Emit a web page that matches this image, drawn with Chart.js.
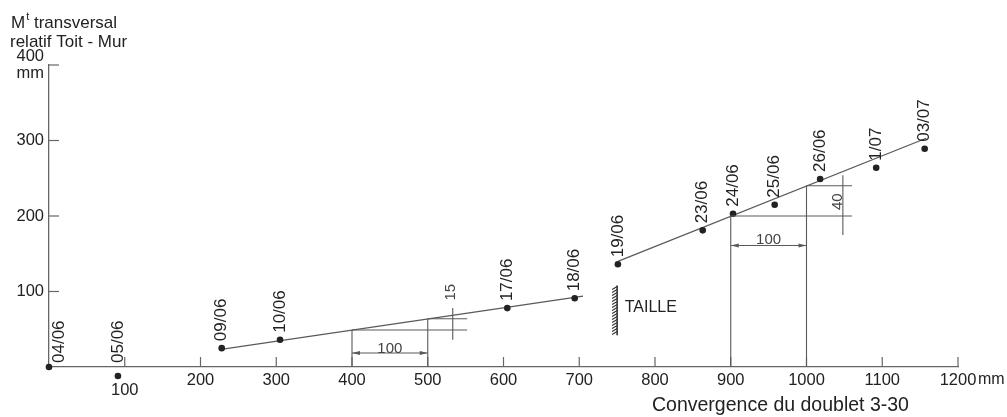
<!DOCTYPE html>
<html><head><meta charset="utf-8">
<script src="https://cdn.jsdelivr.net/npm/chart.js@4.4.1/dist/chart.umd.min.js"></script>
<style>html,body{margin:0;padding:0;background:#fff}canvas{display:block}</style>
</head><body>
<canvas id="c" width="1007" height="417"></canvas>
<script>
// ---- data ----
const dateLabels   = ['04/06','05/06','09/06','10/06','17/06','18/06','19/06','23/06','24/06','25/06','26/06','1/07','03/07'];
const convergence  = [0, 91, 228, 305, 605, 694, 751, 863, 903, 958, 1018, 1092, 1156];   // mm
const transversal  = [0, -12, 25, 36, 78, 91, 136, 181, 203, 215, 249, 264, 289];          // mm
const xTicks = [0,100,200,300,400,500,600,700,800,900,1000,1100,1200];
const yTicks = [0,100,200,300,400];
// fitted straight lines (end points)
const fit1X = [225, 705];  const fit1Y = [23, 94];
const fit2X = [751, 1158]; const fit2Y = [140, 303];
// slope construction triangles: [x1,y1,x2,y2] in data units
const tri1Lines = [[400,0,400,49],[500,0,500,64],[400,49,552,49],[500,64,552,64],[533,36,533,78]];
const tri1Arrow = [400,18.5,500,18.5];
const tri1Labels = [{t:'100',x:450,y:24,rot:false},{t:'15',x:530,y:99,rot:true}];
const tri2Lines = [[900,0,900,200],[1000,0,1000,240],[900,200,1060,200],[1000,240,1060,240],[1048,175,1048,254]];
const tri2Arrow = [900,161,1000,161];
const tri2Labels = [{t:'100',x:950,y:168,rot:false},{t:'40',x:1042,y:219,rot:true}];
// face (taille) marker
const tailleX = 750; const tailleY = [42, 108];
const tailleText = {t:'TAILLE', x:760, y:79};
const yTitle = ['M','t',' transversal','relatif Toit - Mur'];
const xTitle = 'Convergence du doublet 3-30';

const FONT = '"Liberation Sans", Arial, sans-serif';
const INK = '#222';
const LINE = '#5a5a5a';

const annot = {
  id: 'annot',
  afterDraw(chart) {
    const ctx = chart.ctx, xs = chart.scales.x, ys = chart.scales.y;
    const X = v => xs.getPixelForValue(v), Y = v => ys.getPixelForValue(v);
    const area = chart.chartArea;
    ctx.save();
    // points lying outside the plot area (library skips them): draw at the element's computed position
    const meta = chart.getDatasetMeta(0);
    ctx.fillStyle = INK;
    meta.data.forEach(el => {
      if (el.y > area.bottom + 1 || el.y < area.top - 1) {
        ctx.beginPath(); ctx.arc(el.x, el.y, el.options.radius, 0, Math.PI * 2); ctx.fill();
      }
    });
    // inner tick marks
    ctx.strokeStyle = '#666'; ctx.lineWidth = 1.2;
    xs.ticks.forEach(t => { if (t.value === 0) return; const px = X(t.value);
      ctx.beginPath(); ctx.moveTo(px, Y(0)); ctx.lineTo(px, Y(0) - 10); ctx.stroke(); });
    ys.ticks.forEach(t => { if (t.value === 0) return; const py = Y(t.value);
      ctx.beginPath(); ctx.moveTo(X(0), py); ctx.lineTo(X(0) + 10, py); ctx.stroke(); });

    // construction lines
    ctx.strokeStyle = LINE; ctx.lineWidth = 1.1;
    const seg = s => { ctx.beginPath(); ctx.moveTo(X(s[0]), Y(s[1])); ctx.lineTo(X(s[2]), Y(s[3])); ctx.stroke(); };
    tri1Lines.forEach(seg); tri2Lines.forEach(seg);
    const arrow = a => {
      seg(a);
      const x1 = X(a[0]), x2 = X(a[2]), py = Y(a[1]);
      ctx.fillStyle = LINE;
      ctx.beginPath(); ctx.moveTo(x1, py); ctx.lineTo(x1 + 8, py - 2); ctx.lineTo(x1 + 8, py + 2); ctx.closePath(); ctx.fill();
      ctx.beginPath(); ctx.moveTo(x2, py); ctx.lineTo(x2 - 8, py - 2); ctx.lineTo(x2 - 8, py + 2); ctx.closePath(); ctx.fill();
    };
    arrow(tri1Arrow); arrow(tri2Arrow);
    ctx.fillStyle = '#444';
    ctx.font = '15px ' + FONT;
    [...tri1Labels, ...tri2Labels].forEach(l => {
      ctx.save(); ctx.translate(X(l.x), Y(l.y));
      if (l.rot) ctx.rotate(-Math.PI / 2);
      ctx.textAlign = 'center'; ctx.textBaseline = 'middle';
      ctx.fillText(l.t, 0, 0); ctx.restore();
    });

    // taille hatch
    const tx = X(tailleX), ty1 = Y(tailleY[1]), ty2 = Y(tailleY[0]);
    ctx.strokeStyle = '#333'; ctx.lineWidth = 1.6;
    ctx.beginPath(); ctx.moveTo(tx, ty1); ctx.lineTo(tx, ty2); ctx.stroke();
    ctx.lineWidth = 1.1;
    for (let yy = ty1 + 1; yy < ty2 - 2; yy += 3) {
      ctx.beginPath(); ctx.moveTo(tx, yy); ctx.lineTo(tx - 5, yy + 3); ctx.stroke();
    }
    ctx.fillStyle = INK;
    ctx.font = '16px ' + FONT;
    ctx.textAlign = 'left'; ctx.textBaseline = 'middle';
    ctx.fillText(tailleText.t, X(tailleText.x), Y(tailleText.y));

    // date labels
    ctx.font = '17px ' + FONT;
    dateLabels.forEach((lab, i) => {
      const px = X(convergence[i]) + (convergence[i] === 0 ? 10 : 0);
      const py = Y(Math.max(transversal[i], 0)) - (transversal[i] <= 0 ? 4 : 7);
      ctx.save(); ctx.translate(px, py); ctx.rotate(-Math.PI / 2);
      ctx.textAlign = 'left'; ctx.textBaseline = 'middle';
      ctx.fillText(lab, 0, 0); ctx.restore();
    });

    // y title
    ctx.font = '17px ' + FONT; ctx.textBaseline = 'alphabetic'; ctx.textAlign = 'left';
    let cx = 11;
    ctx.fillText(yTitle[0], cx, 28); cx += ctx.measureText(yTitle[0]).width + 1;
    ctx.font = '11px ' + FONT; ctx.fillText(yTitle[1], cx, 20); cx += ctx.measureText(yTitle[1]).width;
    ctx.font = '17px ' + FONT; ctx.fillText(yTitle[2], cx, 28);
    ctx.fillText(yTitle[3], 10, 47);

    // x title and unit
    ctx.font = '19.5px ' + FONT;
    ctx.fillText(xTitle, X(800) - 3, 411);
    ctx.font = '16px ' + FONT; ctx.textBaseline = 'middle';
    ctx.fillText('mm', X(1200) + 20, 380);
    ctx.restore();
  }
};

new Chart(document.getElementById('c').getContext('2d'), {
  type: 'scatter',
  data: {
    datasets: [
      { label: 'mesures', data: convergence.map((x, i) => ({ x, y: transversal[i] })),
        pointRadius: 3.3, pointBackgroundColor: INK, pointBorderWidth: 0, showLine: false, clip: false },
      { label: 'droite 1', data: fit1X.map((x, i) => ({ x, y: fit1Y[i] })),
        showLine: true, borderColor: LINE, borderWidth: 1.3, pointRadius: 0 },
      { label: 'droite 2', data: fit2X.map((x, i) => ({ x, y: fit2Y[i] })),
        showLine: true, borderColor: LINE, borderWidth: 1.3, pointRadius: 0 }
    ]
  },
  options: {
    responsive: false, animation: false,
    layout: { padding: { top: 65, right: 49, left: 0, bottom: 0 } },
    plugins: { legend: { display: false }, tooltip: { enabled: false } },
    scales: {
      x: {
        type: 'linear', min: 0, max: 1200,
        afterBuildTicks: s => { s.ticks = xTicks.map(v => ({ value: v })); },
        afterFit: s => { s.height = 50; },
        ticks: { callback: v => v === 0 ? '' : (v === 100 ? ['', '100'] : String(v)),
                 font: c => ({ family: FONT, size: 16.5, lineHeight: (c.tick && c.tick.value === 100) ? 0.8 : 1.2 }),
                 color: INK, padding: 4, maxRotation: 0, autoSkip: false },
        grid: { display: false, drawTicks: false },
        border: { display: true, color: '#666', width: 1.3 }
      },
      y: {
        type: 'linear', min: 0, max: 400,
        afterBuildTicks: s => { s.ticks = yTicks.map(v => ({ value: v })); },
        afterFit: s => { s.width = 49; },
        ticks: { callback: v => v === 0 ? '' : (v === 400 ? ['400', 'mm'] : String(v)),
                 font: { family: FONT, size: 16.5, lineHeight: 1.05 }, color: INK, padding: 5, autoSkip: false },
        grid: { display: false, drawTicks: false },
        border: { display: true, color: '#666', width: 1.3 }
      }
    }
  },
  plugins: [annot]
});
</script>
</body></html>
